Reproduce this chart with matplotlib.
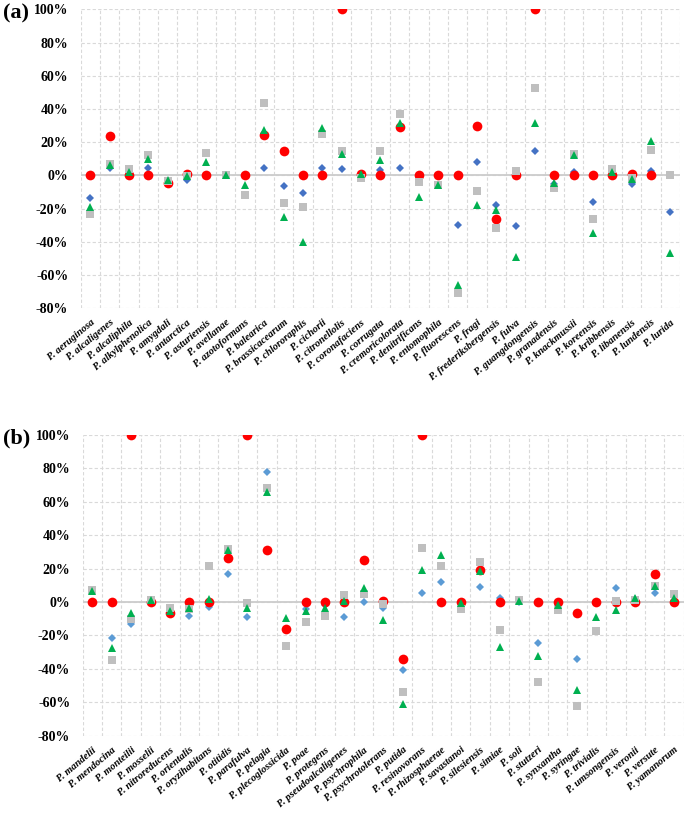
import matplotlib
matplotlib.use('Agg')
import matplotlib.pyplot as plt
import matplotlib.transforms as mtransforms
import numpy as np

nan = np.nan

# ---- data (percent) ----
species_a = ['aeruginosa', 'alcaligenes', 'alcaliphila', 'alkylphenolica', 'amygdali',
             'antarctica', 'asturiensis', 'avellanae', 'azotoformans', 'balearica',
             'brassicacearum', 'chlororaphis', 'cichorii', 'citronellolis', 'coronafaciens',
             'corrugata', 'cremoricolorata', 'denitrificans', 'entomophila', 'fluorescens',
             'fragi', 'frederiksbergensis', 'fulva', 'guangdongensis', 'granadensis',
             'knackmussii', 'koreensis', 'kribbensis', 'libanensis', 'lundensis', 'lurida']
blue_a = [-13.7, 4.6, 0, 4.2, -3.5, -3, 0, 0, 0, 4.6,
          -6.4, -10.7, 4.4, 3.6, 0, 3.2, 4.4, -1, -5.6, -29.6,
          7.8, -17.5, -30.6, 14.5, -5, 1.8, -15.7, 0, -5.4, 2.8, -22.3]
red_a = [0, 24, 0, 0, -4.8, 0.6, 0, nan, 0, 24.1,
         14.7, 0, 0, 100, 0.8, 0, 29, 0, 0, 0,
         30, -26.2, 0, 100, 0, 0, 0, 0, 0.8, 0, nan]
gray_a = [-23.5, 7, 3.6, 12.5, -3.6, -0.4, 13.7, 0, -12, 43.9,
          -16.5, -19, 25.2, 15, -1.4, 14.5, 37.2, -4.2, -5.6, -70.6,
          -9.5, -31.4, 2.8, 52.5, -7.4, 13, -26.4, 3.8, -1.4, 15.5, 0]
green_a = [-19, 6.4, 2, 9.7, -2.8, -0.6, 8, 0, -5.6, 27.6,
           -25.2, -40.2, 28.8, 12.7, 0.8, 9.3, 31.8, -13, -5.6, -66,
           -18, -21, -49, 31.4, -4.6, 12.5, -34.8, 2.2, -2, 21, -46.9]

species_b = ['mandelii', 'mendocina', 'monteilii', 'mosselii', 'nitroreducens',
             'orientalis', 'oryzihabitans', 'otitidis', 'parafulva', 'pelagia',
             'plecoglossicida', 'poae', 'protegens', 'pseudoalcaligenes', 'psychrophila',
             'psychrotolerans', 'putida', 'resinovorans', 'rhizosphaerae', 'savastanoi',
             'silesiensis', 'simiae', 'soli', 'stutzeri', 'synxantha',
             'syringae', 'trivialis', 'umsongensis', 'veronii', 'versute', 'yamanorum']
blue_b = [6.5, -21.7, -13.3, 0, -5, -8.3, -3, 16.9, -9.1, 78.1,
          -16, -4.4, -2, -8.9, 0, -3.6, -40.4, 5.2, 12.1, -2,
          9.1, 2.2, 0, -24.7, -2, -34, 0, 8.2, 2, 5.2, 0]
red_b = [0, 0, 100, 0, -6.8, 0, 0, 26.6, 100, 31,
         -16.3, 0, 0, 0, 24.9, 0.6, -34, 100, 0, 0,
         19.1, 0, nan, 0, 0, -6.6, 0, 0, 0, 16.7, 0]
gray_b = [7.2, -34.4, -10.3, 1.4, -3.4, -4.4, 21.9, 32, -0.8, 68.6,
          -26.2, -11.7, -8.3, 4, 4.8, -1, -53.9, 32.2, 21.5, -4.2,
          24, -16.5, 1.4, -47.7, -4.8, -62.4, -17.5, 0.6, 1.5, 9.7, 4.6]
green_b = [6.4, -27.6, -6.8, 1.4, -5.2, -3.6, 2, 31.4, -3.8, 66.2,
           -9.5, -5.6, -3.8, 0.4, 8.5, -10.5, -61.2, 19.5, 28, -0.8,
           18.5, -27, 0.6, -32, -1.6, -52.7, -8.9, -4.6, 2.6, 9.5, 2.2]

plt.rcParams['font.family'] = ['Liberation Serif', 'DejaVu Serif']

fig = plt.figure(figsize=(6.85, 8.17), dpi=100)
ax_a = fig.add_axes([0.1178, 0.6226, 0.8749, 0.366])
ax_b = fig.add_axes([0.1207, 0.0995, 0.8774, 0.368])


def draw_panel(ax, names, blue, red, gray, green, blue_color):
    x = np.arange(len(names))
    ax.plot(x, blue, 'D', color=blue_color, ms=3.9, mew=0, zorder=3)
    ax.plot(x, red, 'o', color='#FF0000', ms=7.0, mew=0, zorder=4)
    ax.plot(x, gray, 's', color='#BFBFBF', ms=5.8, mew=0, zorder=5)
    ax.plot(x, green, '^', color='#00B050', ms=6.3, mew=0, zorder=6)

    ax.set_xlim(-0.5, len(names) - 0.5)
    ax.set_ylim(-80, 100)
    ax.set_yticks(np.arange(-80, 101, 20))
    ax.set_yticklabels(['%d%%' % v for v in np.arange(-80, 101, 20)],
                       fontsize=10, fontweight='bold')
    ax.set_xticks(x)
    ax.set_xticklabels(['P. ' + n for n in names], rotation=40, ha='right',
                       rotation_mode='anchor', fontsize=7.5,
                       fontweight='bold', fontstyle='italic')
    offset = mtransforms.ScaledTranslation(5 / 100, 0, fig.dpi_scale_trans)
    for lbl in ax.get_xticklabels():
        lbl.set_transform(lbl.get_transform() + offset)
    ax.set_xticks(np.arange(-0.5, len(names), 1), minor=True)

    ax.grid(which='major', axis='y', color='#D9D9D9', lw=0.8, ls=(0, (3, 2)))
    ax.grid(which='minor', axis='x', color='#D9D9D9', lw=0.8, ls=(0, (3, 2)))
    ax.axhline(0, color='#CCCCCC', lw=1.3, zorder=2)
    ax.tick_params(which='both', length=0)
    ax.tick_params(axis='y', pad=9)
    ax.tick_params(axis='x', pad=7)
    for s in ax.spines.values():
        s.set_visible(False)
    ax.set_axisbelow(True)


draw_panel(ax_a, species_a, blue_a, red_a, gray_a, green_a, '#4472C4')
draw_panel(ax_b, species_b, blue_b, red_b, gray_b, green_b, '#5B9BD5')

fig.text(0.005, 0.983, '(a)', fontsize=16, fontweight='bold', va='center')
fig.text(0.005, 0.463, '(b)', fontsize=16, fontweight='bold', va='center')

fig.savefig('out.png', dpi=100)
